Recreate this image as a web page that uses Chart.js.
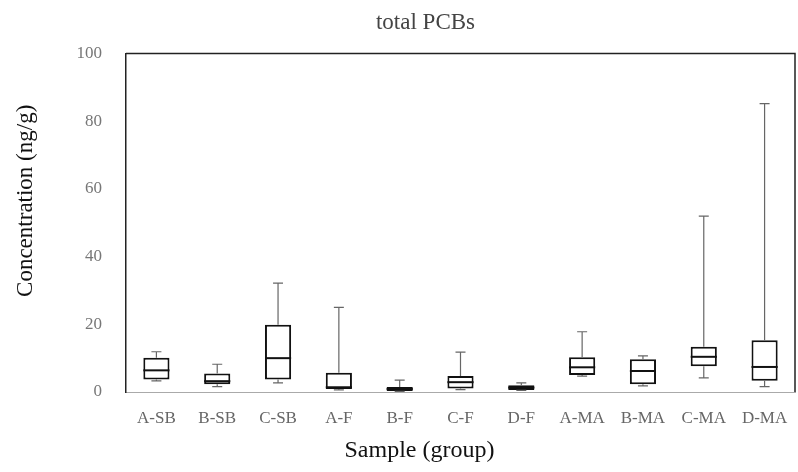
<!DOCTYPE html>
<html>
<head>
<meta charset="utf-8">
<script src="https://cdn.jsdelivr.net/npm/chart.js@4"></script>
<style>
  html, body { margin: 0; padding: 0; background: #fff; }
  #wrap { width: 798px; height: 472px; }
</style>
</head>
<body>
<div id="wrap"><canvas id="chart-pcbs"></canvas></div>
<script>
// box plot data (ng/g)
const categories = ['A-SB', 'B-SB', 'C-SB', 'A-F', 'B-F', 'C-F', 'D-F', 'A-MA', 'B-MA', 'C-MA', 'D-MA'];
const whiskerLow = [3.3, 1.6, 2.7, 0.6, 0.2, 0.7, 0.5, 4.7, 1.8, 4.2, 1.6];
const q1 = [3.7, 2.3, 3.7, 0.9, 0.3, 1.0, 0.6, 5.0, 2.3, 7.6, 3.3];
const median = [6.4, 3.2, 10.0, 1.4, 0.9, 2.9, 1.3, 7.3, 6.2, 10.4, 7.4];
const q3 = [10.1, 5.5, 19.9, 5.7, 1.5, 4.7, 2.0, 10.3, 9.7, 13.4, 15.3];
const whiskerHigh = [11.9, 8.2, 32.2, 25.0, 3.5, 11.8, 2.7, 17.8, 10.7, 52.0, 85.2];
const yTicks = [0, 20, 40, 60, 80, 100];

const serif = '"Liberation Serif", "DejaVu Serif", serif';

// whiskers, caps and medians drawn through the chart scales
const boxExtras = {
  id: 'boxExtras',
  afterDatasetsDraw(chart) {
    const { ctx, scales: { x, y } } = chart;
    const bars = chart.getDatasetMeta(0).data;
    ctx.save();
    categories.forEach((c, i) => {
      const cx = x.getPixelForValue(i);
      const half = bars[i].width / 2;
      const capHalf = 5;
      const yHi = y.getPixelForValue(whiskerHigh[i]);
      const yLo = y.getPixelForValue(whiskerLow[i]);
      const yQ1 = y.getPixelForValue(q1[i]);
      const yQ3 = y.getPixelForValue(q3[i]);
      const yMed = y.getPixelForValue(median[i]);

      ctx.strokeStyle = '#666';
      ctx.lineWidth = 1.2;
      ctx.beginPath();
      ctx.moveTo(cx, yQ3); ctx.lineTo(cx, yHi);
      ctx.moveTo(cx - capHalf, yHi); ctx.lineTo(cx + capHalf, yHi);
      ctx.moveTo(cx, yQ1); ctx.lineTo(cx, yLo);
      ctx.moveTo(cx - capHalf, yLo); ctx.lineTo(cx + capHalf, yLo);
      ctx.stroke();

      ctx.strokeStyle = '#111';
      ctx.lineWidth = 2;
      ctx.beginPath();
      ctx.moveTo(cx - half, yMed); ctx.lineTo(cx + half, yMed);
      ctx.stroke();
    });
    ctx.restore();
  },
  afterDraw(chart) {
    const { ctx, chartArea: a } = chart;
    ctx.save();
    ctx.strokeStyle = '#222';
    ctx.lineWidth = 1.5;
    ctx.beginPath();
    ctx.moveTo(a.left, a.top); ctx.lineTo(a.right, a.top); ctx.lineTo(a.right, a.bottom);
    ctx.stroke();
    ctx.restore();
  }
};

// the original titles sit a little off the plot centre
const titleNudge = {
  id: 'titleNudge',
  afterLayout(chart) {
    if (chart.titleBlock) {
      chart.titleBlock.left += 28;
      chart.titleBlock.right += 28;
    }
    const shift = (scale, dx, dy) => {
      if (scale._nudged) return;
      const orig = scale.drawTitle;
      scale.drawTitle = function () {
        const box = [this.left, this.right, this.top, this.bottom];
        this.left += dx; this.right += dx; this.top += dy; this.bottom += dy;
        orig.call(this);
        [this.left, this.right, this.top, this.bottom] = box;
      };
      scale._nudged = true;
    };
    shift(chart.scales.x, -41, 0);
    shift(chart.scales.y, 0, -22);
  }
};

new Chart(document.getElementById('chart-pcbs').getContext('2d'), {
  type: 'bar',
  data: {
    labels: categories,
    datasets: [{
      label: 'total PCBs',
      data: q1.map((v, i) => [v, q3[i]]),
      backgroundColor: '#fff',
      borderColor: '#111',
      borderWidth: 2,
      borderSkipped: false,
      barPercentage: 0.43,
      categoryPercentage: 1
    }]
  },
  options: {
    responsive: true,
    maintainAspectRatio: false,
    animation: false,
    layout: { padding: { left: 0, right: 3, top: 0, bottom: 0 } },
    plugins: {
      legend: { display: false },
      tooltip: { enabled: false },
      title: {
        display: true,
        text: 'total PCBs',
        color: '#444',
        font: { family: serif, size: 23, weight: 'normal' },
        padding: { top: 9, bottom: 17 }
      }
    },
    scales: {
      x: {
        grid: { display: false },
        border: { display: true, color: '#aaa', width: 1, dash: [2, 2] },
        ticks: { color: '#666', font: { family: serif, size: 17 }, padding: 8 },
        title: {
          display: true,
          text: 'Sample (group)',
          color: '#111',
          font: { family: serif, size: 24 },
          padding: { top: 4, bottom: 7 }
        },
        afterFit(scale) { scale.height = 80; }
      },
      y: {
        min: 0,
        max: 100,
        afterBuildTicks(scale) { scale.ticks = yTicks.map(v => ({ value: v })); },
        grid: { display: false },
        border: { display: true, color: '#222', width: 1.5 },
        ticks: { color: '#777', font: { family: serif, size: 17 }, padding: 16 },
        title: {
          display: true,
          text: 'Concentration (ng/g)',
          color: '#111',
          font: { family: serif, size: 23 },
          padding: { top: 12 }
        },
        afterFit(scale) { scale.width = 126; }
      }
    }
  },
  plugins: [boxExtras, titleNudge]
});
</script>
</body>
</html>
